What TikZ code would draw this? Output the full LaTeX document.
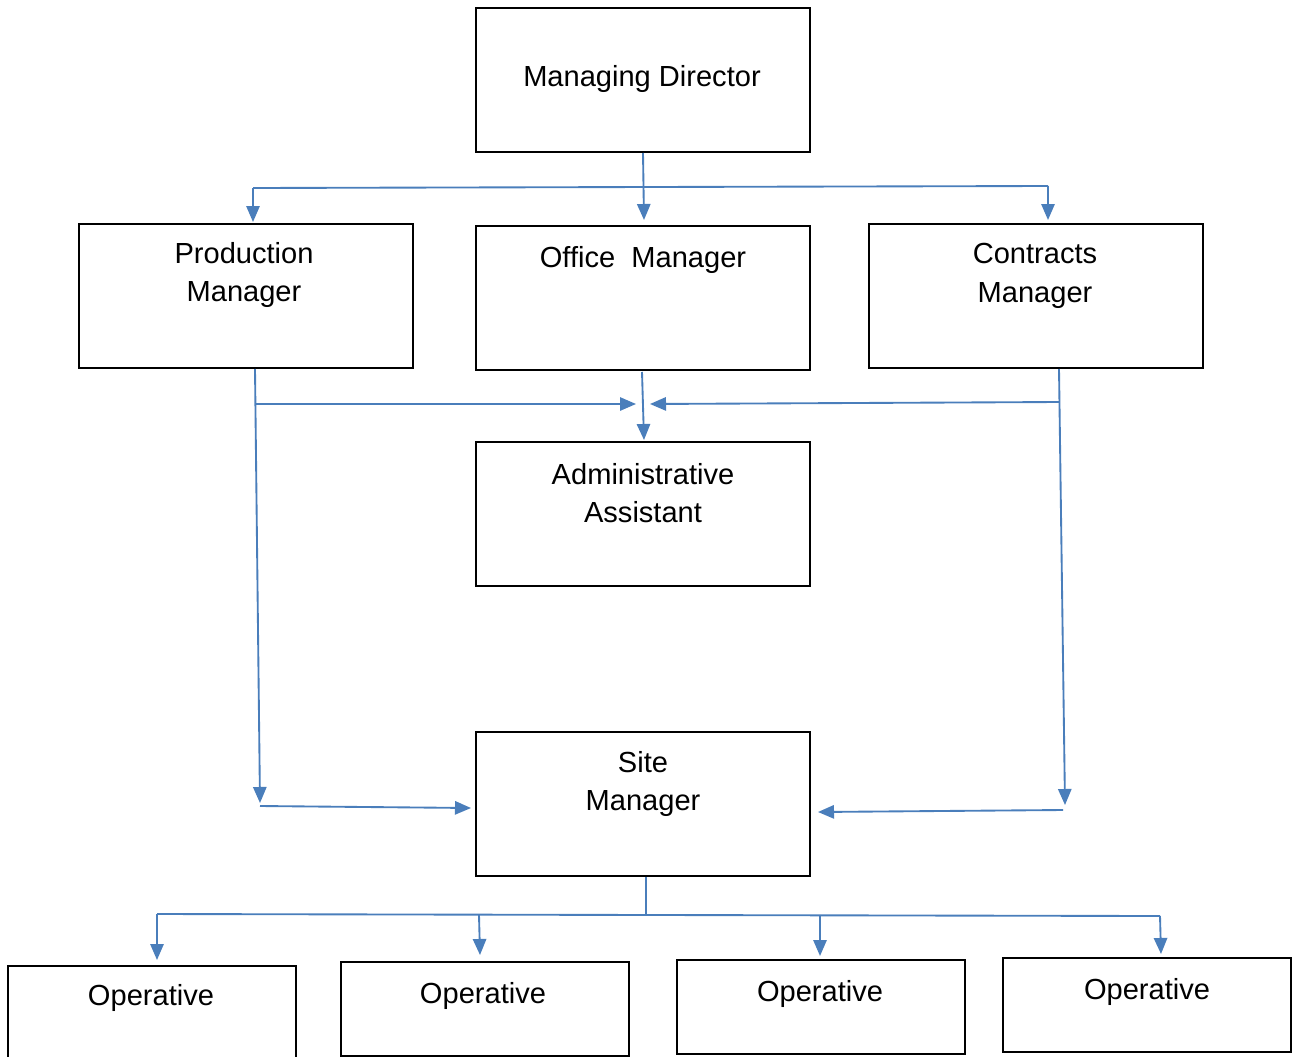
\documentclass[tikz,border=0pt]{standalone}
\usepackage{fontspec}
\setmainfont{Liberation Sans}
\usetikzlibrary{arrows.meta}
\definecolor{conn}{HTML}{4A7EBB}
\tikzset{
  box/.style={draw=black, line width=1.5pt, inner sep=0pt, minimum width=250.5pt, minimum height=108pt},
  opbox/.style={draw=black, line width=1.5pt, inner sep=0pt, minimum width=216pt, minimum height=70.5pt},
  lbl/.style={inner sep=0pt, align=center, font=\fontsize{21.8}{29}\selectfont},
  link/.style={draw=conn, line width=1.4pt},
  arr/.style={link, -{Triangle[width=10pt,length=12pt]}}
}
\begin{document}
\begin{tikzpicture}[x=0.75pt,y=-0.75pt]
\useasboundingbox (0,0) rectangle (1294,1056);
% boxes
\node[box] (md) at (643,80) {};
\node[box] (pm) at (246,296) {};
\node[box] (om) at (643,298) {};
\node[box] (cm) at (1036,296) {};
\node[box] (aa) at (643,514) {};
\node[box] (sm) at (643,804) {};
\node[opbox] (op1) at (152,1013) {};
\node[opbox] (op2) at (485,1008.5) {};
\node[opbox] (op3) at (821,1007) {};
\node[opbox] (op4) at (1147,1005) {};
% labels
\node[lbl] (tmd) at (642,79) {Managing Director};
\node[lbl] (tpm) at (244,275) {Production\\Manager};
\node[lbl] (tom) at (643,260) {Office\ \ Manager};
\node[lbl] (tcm) at (1035,276) {Contracts\\Manager};
\node[lbl] (taa) at (643,493) {Administrative\\Assistant};
\node[lbl] (tsm) at (643,784) {Site\\Manager};
\node[lbl] (to1) at (151,998) {Operative};
\node[lbl] (to2) at (483,996) {Operative};
\node[lbl] (to3) at (820,994) {Operative};
\node[lbl] (to4) at (1147,992) {Operative};
% coordinates
\coordinate (b1) at (253,188);
\coordinate (b2) at (1048,186);
\coordinate (a0) at (253,222);
\coordinate (a1) at (644,220);
\coordinate (a2) at (1048,220);
\coordinate (ombot) at (642,372);
\coordinate (a3) at (644,440);
\coordinate (pmbot) at (255,369);
\coordinate (pj) at (256,404);
\coordinate (a4) at (636,404);
\coordinate (a5) at (260,803);
\coordinate (pl) at (260,806);
\coordinate (a6) at (471,808);
\coordinate (cmbot) at (1059,369);
\coordinate (cj) at (1059,402);
\coordinate (a7) at (650,404);
\coordinate (a8) at (1065,805);
\coordinate (cl) at (1063,810);
\coordinate (a9) at (818,812);
\coordinate (smbot) at (646,877);
\coordinate (sj) at (646,914);
\coordinate (d1) at (157,914);
\coordinate (d2) at (479,915);
\coordinate (d3) at (820,916);
\coordinate (d4) at (1160,916);
\coordinate (e1) at (157,960);
\coordinate (e2) at (480,955);
\coordinate (e3) at (820,956);
\coordinate (e4) at (1161,954);
% top connectors
\draw[arr] (md.south) -- (a1);
\draw[link] (b1) -- (b2);
\draw[arr] (b1) -- (a0);
\draw[arr] (b2) -- (a2);
% office manager to admin
\draw[arr] (ombot) -- (a3);
% production manager
\draw[arr] (pmbot) -- (a5);
\draw[arr] (pj) -- (a4);
\draw[arr] (pl) -- (a6);
% contracts manager
\draw[arr] (cmbot) -- (a8);
\draw[arr] (cj) -- (a7);
\draw[arr] (cl) -- (a9);
% site manager to operatives
\draw[link] (smbot) -- (sj);
\draw[link] (d1) -- (d4);
\draw[arr] (d1) -- (e1);
\draw[arr] (d2) -- (e2);
\draw[arr] (d3) -- (e3);
\draw[arr] (d4) -- (e4);
\end{tikzpicture}
\end{document}
